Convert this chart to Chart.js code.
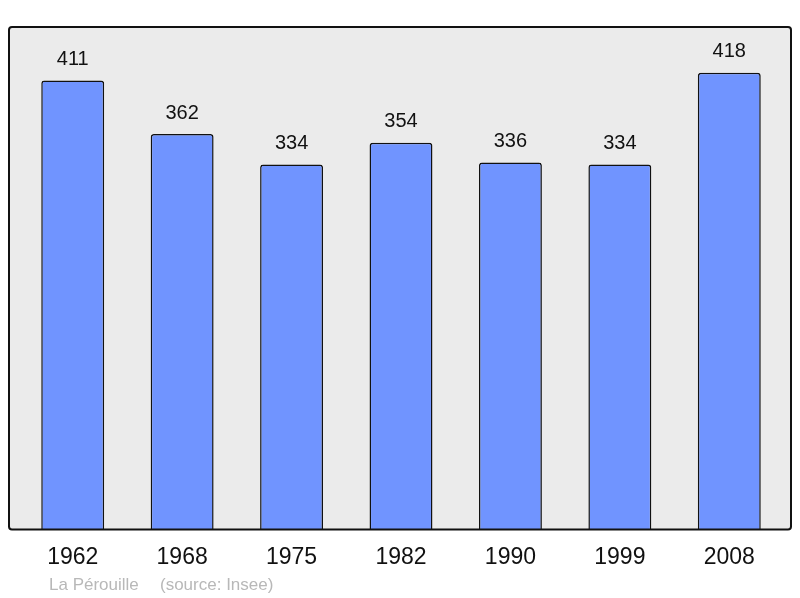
<!DOCTYPE html>
<html>
<head>
<meta charset="utf-8">
<script src="https://cdn.jsdelivr.net/npm/chart.js@4"></script>
<style>
html,body{margin:0;padding:0;background:#fff}
#wrap{width:800px;height:598px}
</style>
</head>
<body>
<div id="wrap"><canvas id="c"></canvas></div>
<script>
var years = ['1962','1968','1975','1982','1990','1999','2008']
var population = [411,362,334,354,336,334,418]
var commune = 'La Pérouille'
var source = '(source: Insee)'

var framePlugin = {
  id: 'frame',
  beforeDraw: function(chart) {
    var ctx = chart.ctx, a = chart.chartArea
    var x0 = a.left - 9, x1 = a.right + 7, y0 = a.top, y1 = a.bottom
    ctx.save()
    ctx.beginPath()
    ctx.roundRect(x0, y0, x1 - x0, y1 - y0, 3)
    ctx.fillStyle = '#ebebeb'
    ctx.fill()
    ctx.restore()
  },
  afterDatasetsDraw: function(chart) {
    var ctx = chart.ctx, a = chart.chartArea
    var x0 = a.left - 9, x1 = a.right + 7, y0 = a.top, y1 = a.bottom
    ctx.save()
    ctx.beginPath()
    ctx.roundRect(x0, y0, x1 - x0, y1 - y0, 3)
    ctx.lineWidth = 2
    ctx.strokeStyle = '#111'
    ctx.stroke()
    // value labels
    ctx.font = '20px "Liberation Sans", Arial, sans-serif'
    ctx.fillStyle = '#111'
    ctx.textAlign = 'center'
    ctx.textBaseline = 'middle'
    chart.getDatasetMeta(0).data.forEach(function(bar, i) {
      ctx.fillText(String(population[i]), bar.x, bar.y - 21)
    })
    // footer
    ctx.font = '17px "Liberation Sans", Arial, sans-serif'
    ctx.fillStyle = '#b8b8b8'
    ctx.textAlign = 'left'
    ctx.fillText(commune, 49, 585)
    ctx.fillText(source, 160, 585)
    ctx.restore()
  }
}

new Chart(document.getElementById('c'), {
  type: 'bar',
  data: {
    labels: years,
    datasets: [{
      data: population,
      backgroundColor: '#7094ff',
      borderColor: '#111',
      borderWidth: 1.5,
      borderRadius: 3,
      borderSkipped: 'bottom',
      categoryPercentage: 1,
      barPercentage: 0.575
    }]
  },
  options: {
    responsive: true,
    maintainAspectRatio: false,
    animation: false,
    layout: { padding: { left: 18, right: 16, top: 27, bottom: 13 } },
    plugins: { legend: { display: false }, tooltip: { enabled: false } },
    scales: {
      y: { display: false, min: 0, max: 460 },
      x: {
        grid: { display: false, drawTicks: false },
        border: { display: false },
        ticks: {
          padding: 14,
          color: '#111',
          font: { family: '"Liberation Sans", Arial, sans-serif', size: 23 }
        }
      }
    }
  },
  plugins: [framePlugin]
})
</script>
</body>
</html>
